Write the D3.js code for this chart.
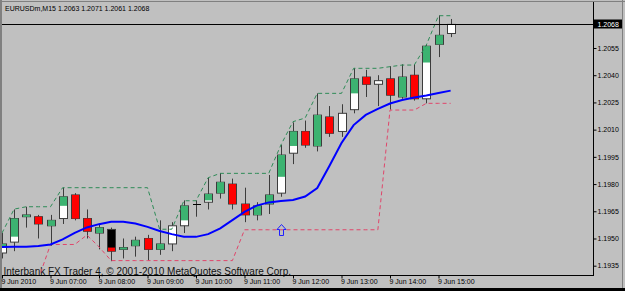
<!DOCTYPE html>
<html>
<head>
<meta charset="utf-8">
<script src="https://cdn.jsdelivr.net/npm/d3@7"></script>
<style>
  body { margin: 0; background: #c0c0c0; }
  svg { display: block; }
  text { font-family: "Liberation Sans", Arial, sans-serif; }
</style>
</head>
<body>
<div id="chart"></div>
<script>
// EURUSDm M15, 9 Jun 2010 - bar times
var barTimes = ["06:00", "06:15", "06:30", "06:45", "07:00", "07:15", "07:30", "07:45",
  "08:00", "08:15", "08:30", "08:45", "09:00", "09:15", "09:30", "09:45",
  "10:00", "10:15", "10:30", "10:45", "11:00", "11:15", "11:30", "11:45",
  "12:00", "12:15", "12:30", "12:45", "13:00", "13:15", "13:30", "13:45",
  "14:00", "14:15", "14:30", "14:45", "15:00", "15:15"];

// OHLC
var openP = [1.1942, 1.1948, 1.1962, 1.1962, 1.1957, 1.1961, 1.1974, 1.1961,
  1.1953, 1.1955, 1.1944, 1.1946, 1.1950, 1.1944, 1.1947, 1.1957,
  1.1969, 1.1970, 1.1975, 1.1980, 1.1969, 1.1963, 1.1969, 1.1975,
  1.1997, 1.2009, 1.2001, 1.2017, 1.2009, 1.2021, 1.2039, 1.2035,
  1.2038, 1.2028, 1.2040, 1.2027, 1.2057, 1.2063];
var highP = [1.1953, 1.1966, 1.19675, 1.1963, 1.1963, 1.1978, 1.1975, 1.1966,
  1.1958, 1.1956, 1.1950, 1.1951, 1.1952, 1.1960, 1.1959, 1.1971,
  1.1971, 1.19835, 1.1986, 1.1983, 1.1978, 1.1970, 1.1985, 1.20015,
  1.2014, 1.2015, 1.2030, 1.2023, 1.2024, 1.2044, 1.2043, 1.2040,
  1.2045, 1.2046, 1.2046, 1.2057, 1.2073, 1.2071];
var lowP = [1.1939, 1.1943, 1.1956, 1.1950, 1.1946, 1.1958, 1.1960, 1.1950,
  1.1944, 1.19375, 1.1939, 1.1940, 1.1938, 1.1941, 1.1943, 1.1953,
  1.1962, 1.1966, 1.1972, 1.1966, 1.1959, 1.1960, 1.19635, 1.1973,
  1.1991, 1.2000, 1.1998, 1.2006, 1.2006, 1.2019, 1.2028, 1.2023,
  1.2021, 1.2027, 1.2026, 1.20245, 1.2050, 1.2061];
var closeP = [1.1947, 1.1961, 1.1963, 1.1958, 1.1960, 1.1973, 1.1961, 1.1954,
  1.1956, 1.1943, 1.1945, 1.1949, 1.1944, 1.1947, 1.1957, 1.1968,
  1.1969, 1.19745, 1.1981, 1.1969, 1.1963, 1.1968, 1.1974, 1.1996,
  1.2009, 1.20015, 1.2018, 1.2008, 1.2019, 1.2038, 1.2035, 1.2037,
  1.2029, 1.2039, 1.2027, 1.2056, 1.2062, 1.2068];

// Coloured overlay bodies (green up / red down), null = none
var haOpen = [1.1945, 1.1951, 1.1962, 1.1962, 1.1957, 1.1968, 1.1974, 1.1961,
  1.1953, 1.1945, 1.1944, 1.1946, 1.1950, 1.1944, null, 1.1960,
  null, 1.1971, 1.1975, 1.1980, 1.1969, 1.1963, 1.1969, 1.1984,
  1.2001, 1.2009, 1.2001, 1.2017, null, 1.2030, 1.2039, null,
  1.2038, 1.2028, 1.2040, 1.2047, 1.2057, null];
var haClose = [1.1947, 1.1961, 1.1963, 1.1958, 1.1960, 1.1973, 1.1961, 1.1954,
  1.1956, 1.1943, 1.1945, 1.1949, 1.1944, 1.1947, null, 1.1968,
  null, 1.19745, 1.1981, 1.1969, 1.1963, 1.1968, 1.1974, 1.1996,
  1.2009, 1.20015, 1.2018, 1.2008, null, 1.2038, 1.2035, null,
  1.2029, 1.2039, 1.2027, 1.2056, 1.2062, null];

// Moving average (blue)
var maLine = [1.19453, 1.19454, 1.19455, 1.19458, 1.19467, 1.19495, 1.19531, 1.19561,
  1.19579, 1.19592, 1.19592, 1.19583, 1.19564, 1.19541, 1.19524, 1.19510,
  1.19509, 1.19524, 1.19556, 1.19601, 1.19647, 1.19681, 1.19699, 1.19706,
  1.19712, 1.19731, 1.19778, 1.19899, 1.20026, 1.20125, 1.20181, 1.20214,
  1.20244, 1.20263, 1.20277, 1.20288, 1.20302, 1.20315];

// Channel (green upper, red lower)
var upperBand = [1.1953, 1.19662, 1.19675, 1.19675, 1.19675, 1.1978, 1.1978, 1.1978,
  1.1978, 1.1978, 1.1978, 1.1978, 1.1978, 1.19551, 1.19551, 1.19708,
  1.19708, 1.19835, 1.19859, 1.19859, 1.19859, 1.19859, 1.19859, 1.20015,
  1.20144, 1.20164, 1.2030, 1.2030, 1.2030, 1.20438, 1.20438, 1.20438,
  1.20447, 1.20456, 1.20456, 1.20567, 1.20728, 1.20728];
var lowerBand = [null, null, null, 1.19276, 1.19467, 1.19467, 1.19467, 1.19519,
  1.19454, 1.19378, 1.19378, 1.19378, 1.19378, 1.19378, 1.19378, 1.19378,
  1.19378, 1.19378, 1.19378, 1.19378, 1.19548, 1.19548, 1.19548, 1.19548,
  1.19548, 1.19548, 1.19548, 1.19548, 1.19548, 1.19548, 1.19548, 1.19548,
  1.20208, 1.20208, 1.20208, 1.20245, 1.20245, 1.20245];

// Signal arrow
var arrowTime = "11:45";
var arrowPrice = 1.1958;

// Axis ticks
var priceTicks = [1.1935, 1.1950, 1.1965, 1.1980, 1.1995, 1.2010, 1.2025, 1.2040, 1.2055];
var timeTicks = ["06:00", "07:00", "08:00", "09:00", "10:00", "11:00", "12:00", "13:00", "14:00", "15:00"];
var timeTickLabels = ["9 Jun 2010", "9 Jun 07:00", "9 Jun 08:00", "9 Jun 09:00", "9 Jun 10:00",
  "9 Jun 11:00", "9 Jun 12:00", "9 Jun 13:00", "9 Jun 14:00", "9 Jun 15:00"];

var titleText = "EURUSDm,M15  1.2063 1.2071 1.2061 1.2068";
var lastPrice = 1.2068;
var copyright = "Interbank FX Trader 4, \u00a9 2001-2010 MetaQuotes Software Corp.";

// SVG size and plot area
var svgWidth = 625;
var svgHeight = 291;
var plot = { left: 2, top: 2, right: 593, bottom: 275 };

var parseTime = d3.timeParse("%Y-%m-%d %H:%M");
function toDate(s) { return parseTime("2010-06-09 " + s); }

var bars = barTimes.map(function(s, i) {
  return {
    time: toDate(s), open: openP[i], high: highP[i], low: lowP[i], close: closeP[i],
    haOpen: haOpen[i], haClose: haClose[i]
  };
});

var xScale = d3.scaleTime()
  .domain([toDate("06:00"), toDate("15:00")])
  .range([2, 438.5]);

var yScale = d3.scaleLinear()
  .domain([1.1935, 1.2055])
  .range([265.7, 48]);

var svg = d3.select("#chart")
  .append("svg")
  .attr("width", svgWidth)
  .attr("height", svgHeight);

svg.append("rect")
  .attr("width", svgWidth)
  .attr("height", svgHeight)
  .attr("fill", "#c0c0c0");

// window frame
svg.append("line").attr("x1", 0).attr("x2", svgWidth).attr("y1", 1.5).attr("y2", 1.5)
  .attr("stroke", "#808080");
svg.append("line").attr("x1", 1).attr("x2", 1).attr("y1", 0).attr("y2", 288)
  .attr("stroke", "#808080").attr("stroke-width", 2);
svg.append("line").attr("x1", 622.5).attr("x2", 622.5).attr("y1", 0).attr("y2", 288)
  .attr("stroke", "#808080");
svg.append("rect").attr("x", 0).attr("y", 288).attr("width", svgWidth).attr("height", 3)
  .attr("fill", "#000");

svg.append("defs").append("clipPath")
  .attr("id", "plotClip")
  .append("rect")
  .attr("x", plot.left)
  .attr("y", plot.top)
  .attr("width", plot.right - plot.left)
  .attr("height", plot.bottom - plot.top);

// copyright text sits under the bars
svg.append("text")
  .attr("x", 3.5)
  .attr("y", 275)
  .attr("font-size", "10px")
  .attr("fill", "#111")
  .text(copyright);

var chartGroup = svg.append("g")
  .attr("clip-path", "url(#plotClip)");

function cx(d) { return Math.round(xScale(d.time)); }

// wicks
chartGroup.selectAll(".wick")
  .data(bars)
  .enter()
  .append("line")
  .attr("class", "wick")
  .attr("x1", d => cx(d) + 0.5)
  .attr("x2", d => cx(d) + 0.5)
  .attr("y1", d => yScale(d.high))
  .attr("y2", d => yScale(d.low))
  .attr("stroke", "#3c3c3c");

// real bodies
chartGroup.selectAll(".body")
  .data(bars.filter(d => Math.abs(yScale(d.open) - yScale(d.close)) >= 1))
  .enter()
  .append("rect")
  .attr("class", "body")
  .attr("x", d => cx(d) - 3.5)
  .attr("width", 8)
  .attr("y", d => yScale(Math.max(d.open, d.close)))
  .attr("height", d => Math.abs(yScale(d.open) - yScale(d.close)))
  .attr("fill", d => d.close >= d.open ? "#ffffff" : "#000000")
  .attr("stroke", "#3c3c3c");

// doji
chartGroup.selectAll(".doji")
  .data(bars.filter(d => Math.abs(yScale(d.open) - yScale(d.close)) < 1))
  .enter()
  .append("line")
  .attr("class", "doji")
  .attr("x1", d => cx(d) - 3)
  .attr("x2", d => cx(d) + 5)
  .attr("y1", d => Math.round(yScale(d.close)) + 0.5)
  .attr("y2", d => Math.round(yScale(d.close)) + 0.5)
  .attr("stroke", "#000");

// coloured overlay bodies
chartGroup.selectAll(".ha")
  .data(bars.filter(d => d.haOpen != null))
  .enter()
  .append("rect")
  .attr("class", "ha")
  .attr("x", d => cx(d) - 3)
  .attr("width", 7)
  .attr("y", d => yScale(Math.max(d.haOpen, d.haClose)))
  .attr("height", d => Math.max(1, Math.abs(yScale(d.haOpen) - yScale(d.haClose))))
  .attr("fill", d => d.haClose >= d.haOpen ? "#3cb371" : "#ff0000");

// channel lines
function bandLine(values) {
  return d3.line()
    .defined(d => values[d] != null)
    .x(d => xScale(toDate(barTimes[d])))
    .y(d => yScale(values[d]))(d3.range(barTimes.length));
}

chartGroup.append("path")
  .attr("d", bandLine(upperBand))
  .attr("fill", "none")
  .attr("stroke", "#2e8b57")
  .attr("stroke-dasharray", "4,3");

chartGroup.append("path")
  .attr("d", bandLine(lowerBand))
  .attr("fill", "none")
  .attr("stroke", "#e0456a")
  .attr("stroke-dasharray", "4,3");

// moving average
chartGroup.append("path")
  .attr("d", bandLine(maLine))
  .attr("fill", "none")
  .attr("stroke", "#0000ff")
  .attr("stroke-width", 2);

// up arrow
var ax = Math.round(xScale(toDate(arrowTime))) + 0.5;
var ay = Math.round(yScale(arrowPrice)) + 0.5;
chartGroup.append("path")
  .attr("d", `M${ax},${ay} L${ax + 4.5},${ay + 5} L${ax + 2},${ay + 5} L${ax + 2},${ay + 11} ` +
    `L${ax - 2},${ay + 11} L${ax - 2},${ay + 5} L${ax - 4.5},${ay + 5} Z`)
  .attr("fill", "none")
  .attr("stroke", "#2020ff");

// current price line
var lastY = Math.round(yScale(lastPrice)) + 0.5;
svg.append("line")
  .attr("x1", plot.left).attr("x2", plot.right)
  .attr("y1", lastY).attr("y2", lastY)
  .attr("stroke", "#000");

// price axis
var rightAxis = d3.axisRight(yScale)
  .tickValues(priceTicks)
  .tickSize(3)
  .tickFormat(d3.format(".4f"));

var yAxisGroup = svg.append("g")
  .attr("transform", `translate(${plot.right + 0.5}, 0)`)
  .call(rightAxis);
yAxisGroup.select(".domain").remove();
yAxisGroup.selectAll("text")
  .attr("x", 4)
  .attr("font-family", "Liberation Sans, Arial, sans-serif")
  .attr("font-size", "7px")
  .attr("fill", "#000");

svg.append("line")
  .attr("x1", plot.right + 0.5).attr("x2", plot.right + 0.5)
  .attr("y1", plot.top).attr("y2", plot.bottom + 1)
  .attr("stroke", "#000");

// last price label
svg.append("rect")
  .attr("x", plot.right + 1)
  .attr("y", lastY - 5)
  .attr("width", 28)
  .attr("height", 9)
  .attr("fill", "#000");
svg.append("text")
  .attr("x", plot.right + 4.5)
  .attr("y", lastY + 2.5)
  .attr("font-size", "7px")
  .attr("fill", "#fff")
  .text(d3.format(".4f")(lastPrice));

// time axis
var bottomAxis = d3.axisBottom(xScale)
  .tickValues(timeTicks.map(toDate))
  .tickSize(3)
  .tickFormat((d, i) => timeTickLabels[i]);

var xAxisGroup = svg.append("g")
  .attr("transform", `translate(0, ${plot.bottom + 0.5})`)
  .call(bottomAxis);
xAxisGroup.select(".domain").remove();
xAxisGroup.selectAll("text")
  .attr("text-anchor", "start")
  .attr("x", -1)
  .attr("y", 8.5)
  .attr("dy", 0)
  .attr("font-family", "Liberation Sans, Arial, sans-serif")
  .attr("font-size", "7px")
  .attr("fill", "#000");

svg.append("line")
  .attr("x1", plot.left).attr("x2", plot.right + 1)
  .attr("y1", plot.bottom + 0.5).attr("y2", plot.bottom + 0.5)
  .attr("stroke", "#000");

// title
svg.append("text")
  .attr("x", 5)
  .attr("y", 10.5)
  .attr("font-size", "7px")
  .attr("fill", "#000")
  .text(titleText);
</script>
</body>
</html>
